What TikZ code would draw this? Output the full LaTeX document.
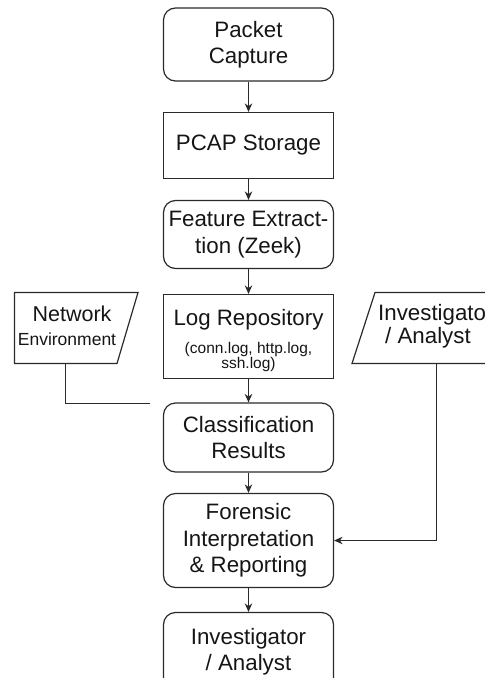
\documentclass[tikz,border=0pt]{standalone}
\usepackage{fontspec}
\setmainfont{Liberation Sans}
\usetikzlibrary{arrows.meta}
\definecolor{linegray}{HTML}{2A2A2A}
\definecolor{inkgray}{HTML}{151515}

\begin{document}
\begin{tikzpicture}[x=1pt,y=-1pt,
  box/.style={draw=linegray, line width=1.2pt, minimum width=170pt, align=center,
              inner sep=0pt, text=inkgray, font=\fontsize{22.3}{26.5}\selectfont},
  rbox/.style={box, rounded corners=12pt},
  txt/.style={align=center, inner sep=0pt, text=inkgray, font=\fontsize{22.3}{24}\selectfont},
  small/.style={align=center, inner sep=0pt, text=inkgray, font=\fontsize{15.5}{13.5}\selectfont},
  flow/.style={draw=linegray, line width=1.2pt, -{Stealth[length=8.5pt,width=7.5pt]}},
  link/.style={draw=linegray, line width=1.2pt}]
\useasboundingbox (0,0) rectangle (485,678);
\clip (0,0) rectangle (485,678);

% main pipeline
\node[rbox, minimum height=73pt] (capture)  at (248.5,44.5) {Packet\\Capture};
\node[box,  minimum height=66pt] (pcap)     at (248.5,145.5)  {PCAP Storage};
\node[rbox, minimum height=68pt] (feature)  at (248.5,234.5)  {Feature Extract-\\tion (Zeek)};
\node[box,  minimum height=84pt] (logrepo)  at (248.5,336.5) {};
\node[txt] (logtitle) at (248.5,320) {Log Repository};
\node[small] (logfiles) at (248.5,357) {(conn.log, http.log,\\ssh.log)};
\node[rbox, minimum height=69pt] (classify) at (248.5,437.5) {Classification\\Results};
\node[rbox, minimum height=94pt] (forensic) at (248.5,540.5)  {Forensic\\Interpretation\\\& Reporting};
\node[rbox, minimum height=78pt] (analyst)  at (248.5,651.5)  {Investigator\\/ Analyst};

\draw[flow] (capture) -- (pcap);
\draw[flow] (pcap) -- (feature);
\draw[flow] (feature) -- (logrepo);
\draw[flow] (logrepo) -- (classify);
\draw[flow] (classify) -- (forensic);
\draw[flow] (forensic) -- (analyst);

% network environment (left input)
\draw[link] (14.5,292.5) -- (138,292.5) -- (117,363.5) -- (14.5,363.5) -- cycle;
\node[txt, font=\fontsize{21.5}{24}\selectfont] (netname) at (72,314) {Network};
\node[inner sep=0pt, text=inkgray, font=\fontsize{17.5}{20}\selectfont] (netenv) at (67,339) {Environment};
\coordinate (netfoot) at (65.5,363.5);
\coordinate (netend) at (150,403.5);
\draw[link] (netfoot) |- (netend);

% investigator / analyst (right input), running past the right edge
\draw[link] (375,292.5) -- (500,292.5) -- (500,363.5) -- (352,363.5) -- cycle;
\node[txt, anchor=west] (invname) at (378,315) {Investigator};
\node[txt] (invrole) at (428,338) {/ Analyst};
\coordinate (invfoot) at (436.5,363.5);
\draw[flow] (invfoot) |- (forensic.east);
\end{tikzpicture}
\end{document}
